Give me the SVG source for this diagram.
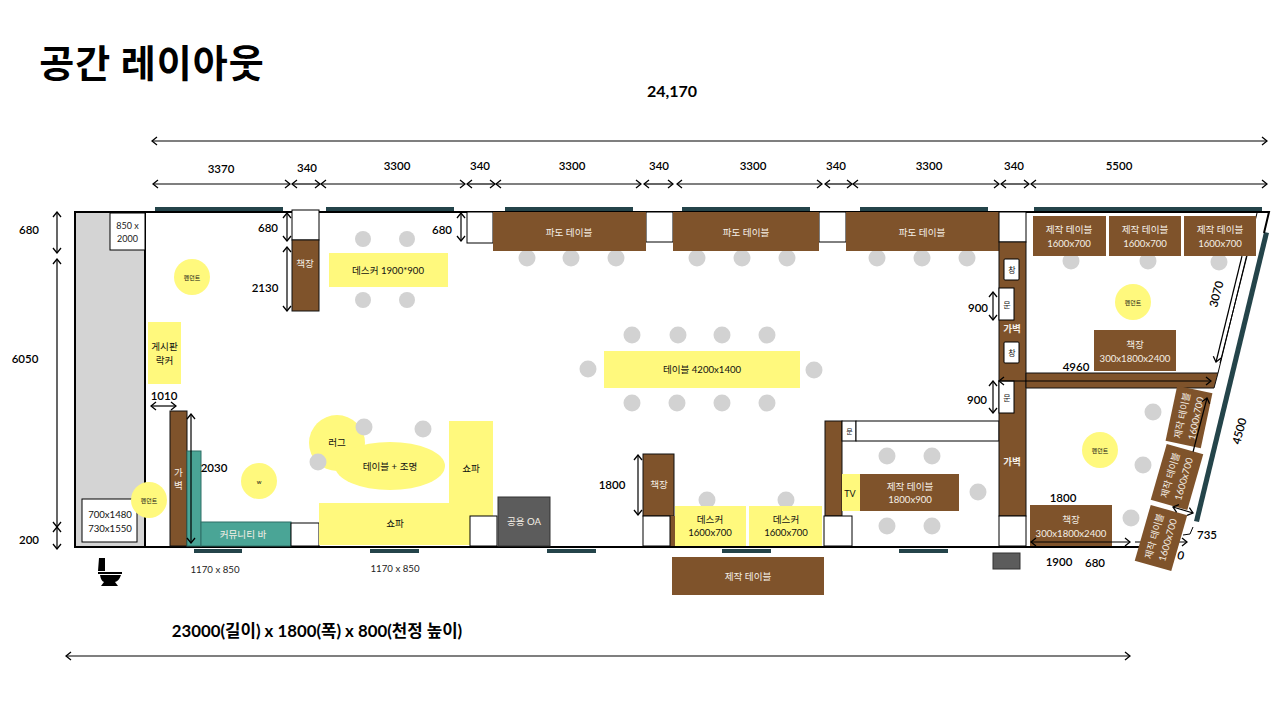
<svg xmlns="http://www.w3.org/2000/svg" width="1280" height="703" viewBox="0 0 1280 703">
<defs>
<marker id="ah" viewBox="-6 -5 7 10" markerWidth="7" markerHeight="10" refX="0" refY="0" orient="auto-start-reverse" markerUnits="userSpaceOnUse"><path d="M-5,-4 L0,0 L-5,4" fill="none" stroke="#000" stroke-width="1.3"/></marker>
</defs>
<style>
text{font-family:"Lato","Noto Sans CJK KR",sans-serif;text-anchor:middle;dominant-baseline:central}
.t{font-size:9.6px;fill:#f5efe6}
.k{font-size:9.6px;fill:#111}
.s{font-size:6px;fill:#111}
.d{font-size:11.5px;font-weight:600;fill:#000}
.b{fill:#7f532b}
.bl{fill:#7f532b;stroke:#111;stroke-width:1}
.y{fill:#fff97d}
.w{fill:#fff;stroke:#000;stroke-width:1}
.c{fill:#d2d2d2}
.p{fill:#fff97d}
.g{fill:#24444a}
.teal{fill:#4aa596;stroke:#2f6f66;stroke-width:1}
.a{stroke:#000;stroke-width:1.2;fill:none;marker-start:url(#ah);marker-end:url(#ah)}
.e{stroke:#000;stroke-width:1.2;fill:none;marker-end:url(#ah)}
</style>
<rect width="1280" height="703" fill="#fff"/>
<text id="title" x="152" y="60" style="font-size:38px;font-weight:700;font-family:'Noto Sans CJK KR',sans-serif;letter-spacing:1px" fill="#000">공간 레이아웃</text>
<g id="windows">
<rect class="g" x="155" y="207" width="128" height="5"/><rect class="g" x="326" y="207" width="128" height="5"/><rect class="g" x="505" y="207" width="128" height="5"/><rect class="g" x="682" y="207" width="128" height="5"/><rect class="g" x="860" y="207" width="128" height="5"/><rect class="g" x="1034" y="207" width="228" height="5"/>
<rect class="g" x="194" y="549" width="48" height="4"/><rect class="g" x="370" y="549" width="49" height="4"/><rect class="g" x="547" y="549" width="49" height="4"/><rect class="g" x="722" y="549" width="49" height="4"/><rect class="g" x="899" y="549" width="49" height="4"/>
<polygon class="g" points="1264,232 1269,233 1199,522 1194,521"/>
</g>
<g id="walls">
<rect x="76" y="213" width="69" height="333" fill="#d4d4d4"/>
<path d="M145,212 H75 V547 H145" fill="none" stroke="#000" stroke-width="2"/>
<path d="M145,212 H1269 L1264,233" fill="none" stroke="#000" stroke-width="2"/>
<path d="M145,212 V547 H1140" fill="none" stroke="#000" stroke-width="2"/>
<path d="M1257,213 L1218,373" fill="none" stroke="#000" stroke-width="1"/>
<path d="M1247,256 L1220,363" fill="none" stroke="#000" stroke-width="1"/>
</g>
<g id="restroom"><rect class="w" x="110" y="213" width="35" height="37"/><text x="127.500" y="225" style="font-size:9px" fill="#222">850 x</text><text x="127.500" y="238" style="font-size:9px" fill="#222">2000</text>
<rect class="w" x="82" y="499" width="55" height="43"/><text x="110" y="514" class="k">700x1480</text><text x="110" y="528" class="k">730x1550</text></g>
<g id="toilet"><path d="M99,558 H105 V571 H98 Z M98,572 H122 V574 H98 Z M100,575 H121 Q119,581 115,582 L118,586 H101 L104,582 Q101,581 100,575 Z" fill="#000"/></g>
<g id="pendant1"><circle class="p" cx="192" cy="277" r="18"/><text class="s" x="192" y="277">펜던트</text></g>
<g id="board"><rect class="y" x="148" y="322" width="33" height="62"/><text class="k" x="164.500" y="346">게시판</text><text class="k" x="164.500" y="360">락커</text></g>
<g id="shelf1"><rect class="w" x="292" y="210" width="27" height="30"/><rect class="bl" x="292" y="240" width="27" height="71"/><text class="t" x="305" y="263">책장</text></g>
<g id="partition1"><rect class="bl" x="170" y="411" width="17" height="135"/><text class="t" x="178.500" y="472">가</text><text class="t" x="178.500" y="485">벽</text></g>
<g id="bar"><rect class="teal" x="187" y="451" width="14" height="95"/><rect class="teal" x="201" y="522" width="90" height="24"/><text class="t" x="243" y="534">커뮤니티 바</text><rect class="w" x="291" y="523" width="28" height="23"/></g>
<g id="pendant2"><circle class="p" cx="149" cy="500" r="18"/><text class="s" x="149" y="500">펜던트</text></g>
<g id="w"><circle class="p" cx="259" cy="481" r="18"/><text class="s" x="259" y="481">w</text></g>
<g id="desk1"><rect class="y" x="329" y="253" width="119" height="34"/><text class="k" x="388" y="270">데스커 1900*900</text><circle class="c" cx="363" cy="239" r="8"/><circle class="c" cx="407" cy="239" r="8"/><circle class="c" cx="363" cy="300" r="8"/><circle class="c" cx="407" cy="300" r="8"/></g>
<g id="rug"><circle class="y" cx="337" cy="443" r="28"/><text class="k" x="337" y="442">러그</text></g>
<g id="lounge"><ellipse class="y" cx="390" cy="466" rx="55" ry="24"/><text class="k" x="390" y="466">테이블 + 조명</text><circle class="c" cx="364" cy="427" r="8.500"/><circle class="c" cx="423" cy="429" r="8.500"/><circle class="c" cx="318" cy="462" r="8.500"/></g>
<g id="sofa"><polygon class="y" points="319,503 449,503 449,421 493,421 493,516 470,516 470,545 319,545"/><text class="k" x="471" y="468">쇼파</text><text class="k" x="395" y="523">쇼파</text><rect class="w" x="470" y="516" width="27" height="30"/></g>
<g id="oa"><rect x="498" y="497" width="52" height="49" fill="#5c5c5c" stroke="#333" stroke-width="1"/><text x="524" y="521" class="t">공용 OA</text></g>
<g id="padoTables">
<rect class="w" x="467" y="212" width="26" height="31" stroke="#555"/><rect class="w" x="646" y="212" width="27" height="30"/><rect class="w" x="819" y="212" width="27" height="30"/>
<circle class="c" cx="527" cy="258" r="8.500"/><circle class="c" cx="571" cy="258" r="8.500"/><circle class="c" cx="616" cy="258" r="8.500"/><circle class="c" cx="697" cy="258" r="8.500"/><circle class="c" cx="742" cy="258" r="8.500"/><circle class="c" cx="787" cy="258" r="8.500"/><circle class="c" cx="877" cy="258" r="8.500"/><circle class="c" cx="922" cy="258" r="8.500"/><circle class="c" cx="967" cy="258" r="8.500"/>
<rect class="b" x="493" y="212" width="153" height="39"/><text class="t" x="569" y="232">파도 테이블</text>
<rect class="b" x="673" y="212" width="146" height="39"/><text class="t" x="746" y="232">파도 테이블</text>
<rect class="b" x="846" y="212" width="153" height="39"/><text class="t" x="922" y="232">파도 테이블</text>
</g>
<g id="bigTable"><rect class="y" x="604" y="351" width="196" height="37"/><text class="k" x="702" y="369">테이블 4200x1400</text>
<circle class="c" cx="632" cy="335" r="8.500"/><circle class="c" cx="678" cy="335" r="8.500"/><circle class="c" cx="722" cy="335" r="8.500"/><circle class="c" cx="767" cy="335" r="8.500"/><circle class="c" cx="632" cy="403" r="8.500"/><circle class="c" cx="677" cy="403" r="8.500"/><circle class="c" cx="722" cy="403" r="8.500"/><circle class="c" cx="767" cy="403" r="8.500"/><circle class="c" cx="588" cy="369" r="8.500"/><circle class="c" cx="814" cy="370" r="8.500"/></g>
<g id="shelf2"><rect class="bl" x="643" y="454" width="31" height="62"/><text class="t" x="659" y="484">책장</text><rect class="b" x="670" y="516" width="5" height="30"/><rect class="w" x="643" y="516" width="27" height="30"/></g>
<g id="desks"><circle class="c" cx="707" cy="500" r="8.500"/><circle class="c" cx="786" cy="500" r="8.500"/><rect class="y" x="675" y="506" width="71" height="40"/><text class="k" x="710" y="519">데스커</text><text class="k" x="710" y="532">1600x700</text><rect class="y" x="749" y="506" width="73" height="40"/><text class="k" x="786" y="519">데스커</text><text class="k" x="786" y="532">1600x700</text></g>
<g id="outerTable"><rect class="b" x="672" y="557" width="152" height="38"/><text class="t" x="748" y="576">제작 테이블</text></g>
<g id="room2"><rect class="bl" x="825" y="421" width="17" height="95"/><rect class="w" x="842" y="421" width="14" height="20"/><text class="s" x="849.500" y="431" style="font-size:7px">문</text><rect class="w" x="856" y="421" width="143" height="20"/><rect class="w" x="824" y="516" width="28" height="30"/>
<rect class="y" x="842" y="474" width="18" height="37"/><text class="k" x="850" y="493" style="font-size:9px">TV</text>
<rect class="b" x="860" y="474" width="99" height="37"/><text class="t" x="910" y="486">제작 테이블</text><text class="t" x="910" y="499">1800x900</text>
<circle class="c" cx="887" cy="456" r="8.500"/><circle class="c" cx="932" cy="456" r="8.500"/><circle class="c" cx="887" cy="526" r="8.500"/><circle class="c" cx="932" cy="526" r="8.500"/><circle class="c" cx="978" cy="492" r="8.500"/></g>
<g id="partition2"><rect class="w" x="999" y="212" width="27" height="30"/><rect class="bl" x="999" y="242" width="27" height="274"/><rect class="w" x="999" y="516" width="27" height="30"/>
<text x="1012" y="328" class="t" style="font-weight:700">가벽</text><text x="1012" y="461" class="t" style="font-weight:700">가벽</text>
<rect class="w" x="1004" y="259" width="15" height="21" rx="1"/><text class="s" x="1012" y="270" style="font-size:8px">창</text>
<rect class="w" x="999" y="288" width="15" height="32"/><text class="s" x="1007" y="305" style="font-size:8px">문</text>
<rect class="w" x="1004" y="342" width="15" height="21" rx="1"/><text class="s" x="1012" y="353" style="font-size:8px">창</text>
<rect class="w" x="999" y="381" width="15" height="32"/><text class="s" x="1007" y="398" style="font-size:8px">문</text></g>
<g id="cross"><polygon class="bl" points="1026,373 1218,373 1214,388 1026,388" stroke="none"/></g>
<g id="prodTop"><circle class="c" cx="1071" cy="261" r="8.500"/><circle class="c" cx="1148" cy="261" r="8.500"/><circle class="c" cx="1219" cy="262" r="8.500"/>
<rect class="b" x="1033" y="216" width="73" height="40"/><text class="t" x="1069" y="229">제작 테이블</text><text class="t" x="1069" y="243">1600x700</text>
<rect class="b" x="1109" y="216" width="72" height="40"/><text class="t" x="1145" y="229">제작 테이블</text><text class="t" x="1145" y="243">1600x700</text>
<rect class="b" x="1184" y="216" width="72" height="40"/><text class="t" x="1220" y="229">제작 테이블</text><text class="t" x="1220" y="243">1600x700</text></g>
<g id="pendant3"><circle class="p" cx="1133" cy="302" r="18"/><text class="s" x="1133" y="302">펜던트</text></g>
<g id="shelf3"><rect class="b" x="1094" y="330" width="82" height="41"/><text class="t" x="1135" y="344">책장</text><text class="t" x="1135" y="358">300x1800x2400</text></g>
<g id="pendant4"><circle class="p" cx="1100" cy="450" r="18"/><text class="s" x="1100" y="450">펜던트</text></g>
<g id="shelf4"><rect class="b" x="1030" y="505" width="82" height="41"/><text class="t" x="1071" y="519">책장</text><text class="t" x="1071" y="533">300x1800x2400</text></g>
<g id="seats"><circle class="c" cx="1153" cy="412" r="8.500"/><circle class="c" cx="1143" cy="465" r="8.500"/><circle class="c" cx="1131" cy="518" r="8.500"/></g>
<g id="connectors">
<line class="e" x1="1135" y1="542" x2="1187" y2="542"/>
<path d="M1193,527 L1190,534 L1183,535" fill="none" stroke="#000" stroke-width="1"/>
</g>
<g id="prodSlant">
<g transform="translate(1161,538) rotate(16)"><rect class="b" x="-19" y="-29" width="38" height="58"/><g transform="rotate(-90)"><text class="t" y="-7">제작 테이블</text><text class="t" y="7">1600x700</text></g></g>
<g transform="translate(1177,477) rotate(16)"><rect class="b" x="-19" y="-29" width="38" height="58"/><g transform="rotate(-90)"><text class="t" y="-7">제작 테이블</text><text class="t" y="7">1600x700</text></g></g>
<g transform="translate(1189,417) rotate(12)"><rect class="b" x="-18" y="-28" width="36" height="56"/><g transform="rotate(-90)"><text class="t" y="-7">제작 테이블</text><text class="t" y="7">1600x700</text></g></g>
</g>
<g id="dimensions">
<line class="a" x1="152" y1="141" x2="1267" y2="141"/>
<line class="a" x1="153" y1="184" x2="290" y2="184"/><line class="a" x1="292" y1="184" x2="320" y2="184"/><line class="a" x1="321" y1="184" x2="465" y2="184"/><line class="a" x1="467" y1="184" x2="495" y2="184"/><line class="a" x1="496" y1="184" x2="641" y2="184"/><line class="a" x1="644" y1="184" x2="673" y2="184"/><line class="a" x1="677" y1="184" x2="822" y2="184"/><line class="a" x1="825" y1="184" x2="852" y2="184"/><line class="a" x1="853" y1="184" x2="999" y2="184"/><line class="a" x1="1001" y1="184" x2="1029" y2="184"/><line class="a" x1="1031" y1="184" x2="1267" y2="184"/>
<line class="a" x1="57" y1="212" x2="57" y2="253"/><line class="a" x1="57" y1="259" x2="57" y2="527"/><line class="a" x1="57" y1="527" x2="57" y2="549"/>
<line class="a" x1="287" y1="213" x2="287" y2="241"/><line class="a" x1="287" y1="247" x2="287" y2="311"/>
<line class="a" x1="461" y1="213" x2="461" y2="241"/>
<line class="a" x1="151" y1="406" x2="176" y2="406"/><line class="a" x1="191" y1="414" x2="191" y2="543"/>
<line class="a" x1="638" y1="455" x2="638" y2="515"/>
<line class="a" x1="993" y1="292" x2="993" y2="320"/><line class="a" x1="993" y1="381" x2="993" y2="413"/>
<line class="a" x1="999" y1="381" x2="1211" y2="381"/>
<line class="e" x1="1242" y1="256" x2="1216" y2="362"/>
<line class="e" x1="1193" y1="452" x2="1207" y2="398"/>
<line class="a" x1="1173" y1="507" x2="1193" y2="513"/>
<line class="a" x1="1031" y1="542" x2="1130" y2="542"/>
<line class="a" x1="66" y1="656" x2="1130" y2="656"/>
<text x="672" y="90" style="font-size:16px;font-weight:700">24,170</text>
<text class="d" x="221" y="168">3370</text><text class="d" x="307" y="167">340</text><text class="d" x="397" y="165">3300</text><text class="d" x="480" y="165">340</text><text class="d" x="572" y="165">3300</text><text class="d" x="659" y="165">340</text><text class="d" x="753" y="165">3300</text><text class="d" x="836" y="165">340</text><text class="d" x="929" y="165">3300</text><text class="d" x="1014" y="165">340</text><text class="d" x="1119" y="165">5500</text>
<text class="d" x="29" y="229">680</text><text class="d" x="25" y="358">6050</text><text class="d" x="29" y="539">200</text>
<text class="d" x="268" y="227">680</text><text class="d" x="265" y="287">2130</text><text class="d" x="442" y="229">680</text>
<text class="d" x="164" y="395">1010</text><text class="d" x="214" y="467">2030</text><text class="d" x="612" y="484">1800</text>
<text class="d" x="978" y="307">900</text><text class="d" x="977" y="399">900</text><text class="d" x="1076" y="366">4960</text>
<text class="d" transform="translate(1216,294) rotate(-75)">3070</text><text class="d" transform="translate(1239,431) rotate(-75)">4500</text>
<text class="d" x="1207" y="534">735</text><text class="d" x="1063" y="497">1800</text><text class="d" x="1059" y="561">1900</text><text class="d" x="1095" y="562">680</text>
<text class="d" transform="translate(1181,555) rotate(15)">0</text>
<text x="215" y="569" style="font-size:9.700px" fill="#222">1170 x 850</text><text x="395" y="568" style="font-size:9.700px" fill="#222">1170 x 850</text>
<text x="317" y="630" style="font-size:16.800px;font-weight:700">23000(길이) x 1800(폭) x 800(천정 높이)</text>
</g>
<g id="device"><rect x="993" y="553" width="27" height="16" fill="#5c5c5c" stroke="#333" stroke-width="1"/></g>
</svg>
